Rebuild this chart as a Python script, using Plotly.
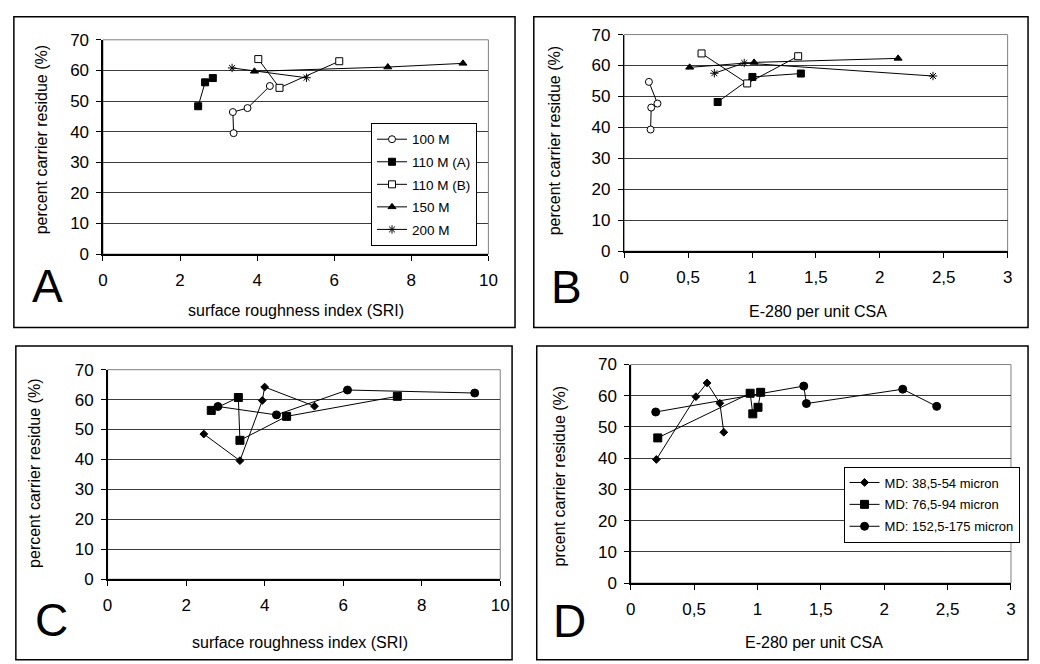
import plotly.graph_objects as go

# ---------------- data ----------------
# Panel A: SRI vs residue, by mesh size
a_100m_x = [3.39, 3.37, 3.75, 4.33]
a_100m_y = [39.5, 46.4, 47.7, 54.9]
a_110ma_x = [2.47, 2.65, 2.85]
a_110ma_y = [48.3, 56.1, 57.5]
a_110mb_x = [4.03, 4.58, 6.13]
a_110mb_y = [63.7, 54.3, 63.0]
a_150m_x = [3.93, 7.39, 9.34]
a_150m_y = [59.7, 61.1, 62.3]
a_200m_x = [3.35, 5.28]
a_200m_y = [60.8, 57.6]

# Panel B: E-280 per unit CSA vs residue, by mesh size
b_100m_x = [0.206, 0.211, 0.26, 0.193]
b_100m_y = [39.3, 46.4, 47.7, 54.7]
b_110ma_x = [0.731, 1.003, 1.382]
b_110ma_y = [48.2, 56.3, 57.4]
b_110mb_x = [0.605, 0.962, 1.361]
b_110mb_y = [63.9, 54.2, 63.0]
b_150m_x = [0.512, 1.016, 2.143]
b_150m_y = [59.4, 61.0, 62.3]
b_200m_x = [0.705, 0.939, 2.416]
b_200m_y = [57.5, 60.8, 56.6]

# Panel C: SRI vs residue, by median diameter
c_md1_x = [2.45, 3.37, 3.94, 4.00, 5.27]
c_md1_y = [48.5, 39.6, 59.7, 64.2, 57.8]
c_md2_x = [2.64, 3.33, 3.37, 4.56, 7.38]
c_md2_y = [56.4, 60.7, 46.4, 54.4, 61.1]
c_md3_x = [2.81, 4.30, 6.11, 9.35]
c_md3_y = [57.7, 54.9, 63.2, 62.2]

# Panel D: E-280 per unit CSA vs residue, by median diameter
d_md1_x = [0.202, 0.514, 0.602, 0.703, 0.734]
d_md1_y = [39.6, 59.7, 64.1, 57.6, 48.3]
d_md2_x = [0.213, 0.942, 0.963, 1.004, 1.025]
d_md2_y = [46.5, 60.8, 54.2, 56.3, 61.1]
d_md3_x = [0.197, 1.365, 1.386, 2.146, 2.414]
d_md3_y = [54.8, 63.1, 57.5, 62.1, 56.6]

mesh_names = ["100 M", "110 M (A)", "110 M (B)", "150 M", "200 M"]
md_names = ["MD: 38,5-54 micron", "MD: 76,5-94 micron", "MD: 152,5-175 micron"]

x_titles = ["surface roughness index (SRI)", "E-280 per unit CSA",
            "surface roughness index (SRI)", "E-280 per unit CSA"]
y_titles = ["percent carrier residue (%)", "percent carrier residue (%)",
            "percent carrier residue (%)", "prcent carrier residue (%)"]
panel_letters = ["A", "B", "C", "D"]

FONT = "Liberation Sans, Arial, sans-serif"
W, H = 1040, 664

def px_x(p):
    return p / W

def px_y(p):
    return 1 - p / H

# plot-area rectangles in pixels (left, right, top, bottom)
areas = [
    (99.3, 490.0, 31.7, 252.3),
    (627.7, 1016.3, 26.3, 249.3),
    (104.0, 502.0, 371.3, 587.0),
    (634.3, 1019.7, 366.0, 591.0),
]
# panel outer boxes (left, right, top, bottom)
boxes = [
    (9, 517, 8, 328),
    (536, 1037, 8, 328),
    (11, 514, 347, 670),
    (539, 1037, 347, 670),
]

fig = go.Figure()

line_style = dict(color="black", width=1)

def mk(symbol, size, fill="black", lw=1):
    return dict(symbol=symbol, size=size, color=fill,
                line=dict(color="black", width=lw))

mesh_markers = [
    mk("circle", 7, "white"),
    mk("square", 7, "black"),
    mk("square", 7, "white"),
    mk("triangle-up", 7, "black"),
    mk("asterisk-open", 7, "black"),
]
md_markers_c = [
    mk("diamond", 6, "black"),
    mk("square", 8, "black"),
    mk("circle", 8, "black"),
]

a_series = [(a_100m_x, a_100m_y), (a_110ma_x, a_110ma_y), (a_110mb_x, a_110mb_y),
            (a_150m_x, a_150m_y), (a_200m_x, a_200m_y)]
b_series = [(b_100m_x, b_100m_y), (b_110ma_x, b_110ma_y), (b_110mb_x, b_110mb_y),
            (b_150m_x, b_150m_y), (b_200m_x, b_200m_y)]
c_series = [(c_md1_x, c_md1_y), (c_md2_x, c_md2_y), (c_md3_x, c_md3_y)]
d_series = [(d_md1_x, d_md1_y), (d_md2_x, d_md2_y), (d_md3_x, d_md3_y)]

for i, (xs, ys) in enumerate(a_series):
    fig.add_trace(go.Scatter(x=xs, y=ys, mode="lines+markers", name=mesh_names[i],
                             line=line_style, marker=mesh_markers[i],
                             xaxis="x", yaxis="y", legend="legend",
                             legendgroup="a%d" % i, showlegend=True))
for i, (xs, ys) in enumerate(b_series):
    fig.add_trace(go.Scatter(x=xs, y=ys, mode="lines+markers", name=mesh_names[i],
                             line=line_style, marker=mesh_markers[i],
                             xaxis="x2", yaxis="y2", showlegend=False))
for i, (xs, ys) in enumerate(c_series):
    fig.add_trace(go.Scatter(x=xs, y=ys, mode="lines+markers", name=md_names[i],
                             line=line_style, marker=md_markers_c[i],
                             xaxis="x3", yaxis="y3", showlegend=False))
for i, (xs, ys) in enumerate(d_series):
    fig.add_trace(go.Scatter(x=xs, y=ys, mode="lines+markers", name=md_names[i],
                             line=line_style, marker=md_markers_c[i],
                             xaxis="x4", yaxis="y4", legend="legend2",
                             legendgroup="d%d" % i, showlegend=True))

x_ranges = [[0, 10], [0, 3], [0, 10], [0, 3]]
x_dticks = [2, 0.5, 2, 0.5]

layout = dict(
    width=W, height=H,
    margin=dict(l=0, r=0, t=0, b=0),
    paper_bgcolor="white", plot_bgcolor="white",
    font=dict(family=FONT, color="black", size=17),
    separators=",.",
    showlegend=True,
)

shapes = []
annotations = []
for k in range(4):
    l, r, t, b = areas[k]
    sfx = "" if k == 0 else str(k + 1)
    layout["xaxis" + sfx] = dict(
        domain=[px_x(l), px_x(r)], range=x_ranges[k], dtick=x_dticks[k], tick0=0,
        anchor="y" + sfx, showgrid=False, zeroline=False,
        showline=True, linecolor="black", linewidth=1.5,
        ticks="outside", ticklen=5, tickcolor="black", tickwidth=1,
        ticklabelstandoff=5, tickfont=dict(size=17, family=FONT),
        fixedrange=True,
    )
    layout["yaxis" + sfx] = dict(
        domain=[px_y(b), px_y(t)], range=[0, 70], dtick=10, tick0=0,
        anchor="x" + sfx, showgrid=True, gridcolor="#3c3c3c", gridwidth=1,
        zeroline=False, showline=True, linecolor="black", linewidth=1.5,
        ticks="outside", ticklen=5, tickcolor="black", tickwidth=1,
        ticklabelstandoff=4, tickfont=dict(size=17, family=FONT),
        fixedrange=True,
    )
    # plot area border
    shapes.append(dict(type="rect", xref="x%s domain" % sfx, yref="y%s domain" % sfx,
                       x0=0, x1=1, y0=0, y1=1, line=dict(color="#808080", width=1),
                       layer="below"))
    # outer panel box
    bl, br, bt, bb = boxes[k]
    shapes.append(dict(type="rect", xref="paper", yref="paper",
                       x0=px_x(bl), x1=px_x(br), y0=px_y(bb), y1=px_y(bt),
                       line=dict(color="black", width=1.5)))

# axis titles and panel letters (pixel centres)
xt_pos = [(294.6, 310), (823.7, 311.7), (299, 651.7), (820, 651.7)]
yt_pos = [(36.7, 135), (556.7, 136), (30, 478), (561.7, 481)]
letter_pos = [(25, 285), (551.7, 286), (28, 628.5), (553, 630)]
for k in range(4):
    annotations.append(dict(text=x_titles[k], xref="paper", yref="paper",
                            x=px_x(xt_pos[k][0]), y=px_y(xt_pos[k][1]),
                            xanchor="center", yanchor="middle", showarrow=False,
                            font=dict(size=16, family=FONT)))
    annotations.append(dict(text=y_titles[k], xref="paper", yref="paper",
                            x=px_x(yt_pos[k][0]), y=px_y(yt_pos[k][1]),
                            xanchor="center", yanchor="middle", showarrow=False,
                            textangle=-90, font=dict(size=16, family=FONT)))
    annotations.append(dict(text=panel_letters[k], xref="paper", yref="paper",
                            x=px_x(letter_pos[k][0]), y=px_y(letter_pos[k][1]),
                            xanchor="left", yanchor="middle", showarrow=False,
                            font=dict(size=46, family=FONT)))

layout["shapes"] = shapes
layout["annotations"] = annotations
layout["legend"] = dict(
    x=px_x(371), y=px_y(117.3), xanchor="left", yanchor="top",
    bgcolor="white", bordercolor="black", borderwidth=1,
    font=dict(size=13.5, family=FONT), tracegroupgap=2, itemwidth=30,
)
layout["legend2"] = dict(
    x=px_x(850), y=px_y(471), xanchor="left", yanchor="top",
    bgcolor="white", bordercolor="black", borderwidth=1,
    font=dict(size=13, family=FONT), tracegroupgap=2, itemwidth=30,
)

fig.update_layout(**layout)
fig.write_html(
    "out.html",
    config={"displayModeBar": False, "staticPlot": True},
    post_script="document.body.style.margin='0';document.body.style.overflow='hidden';",
)
